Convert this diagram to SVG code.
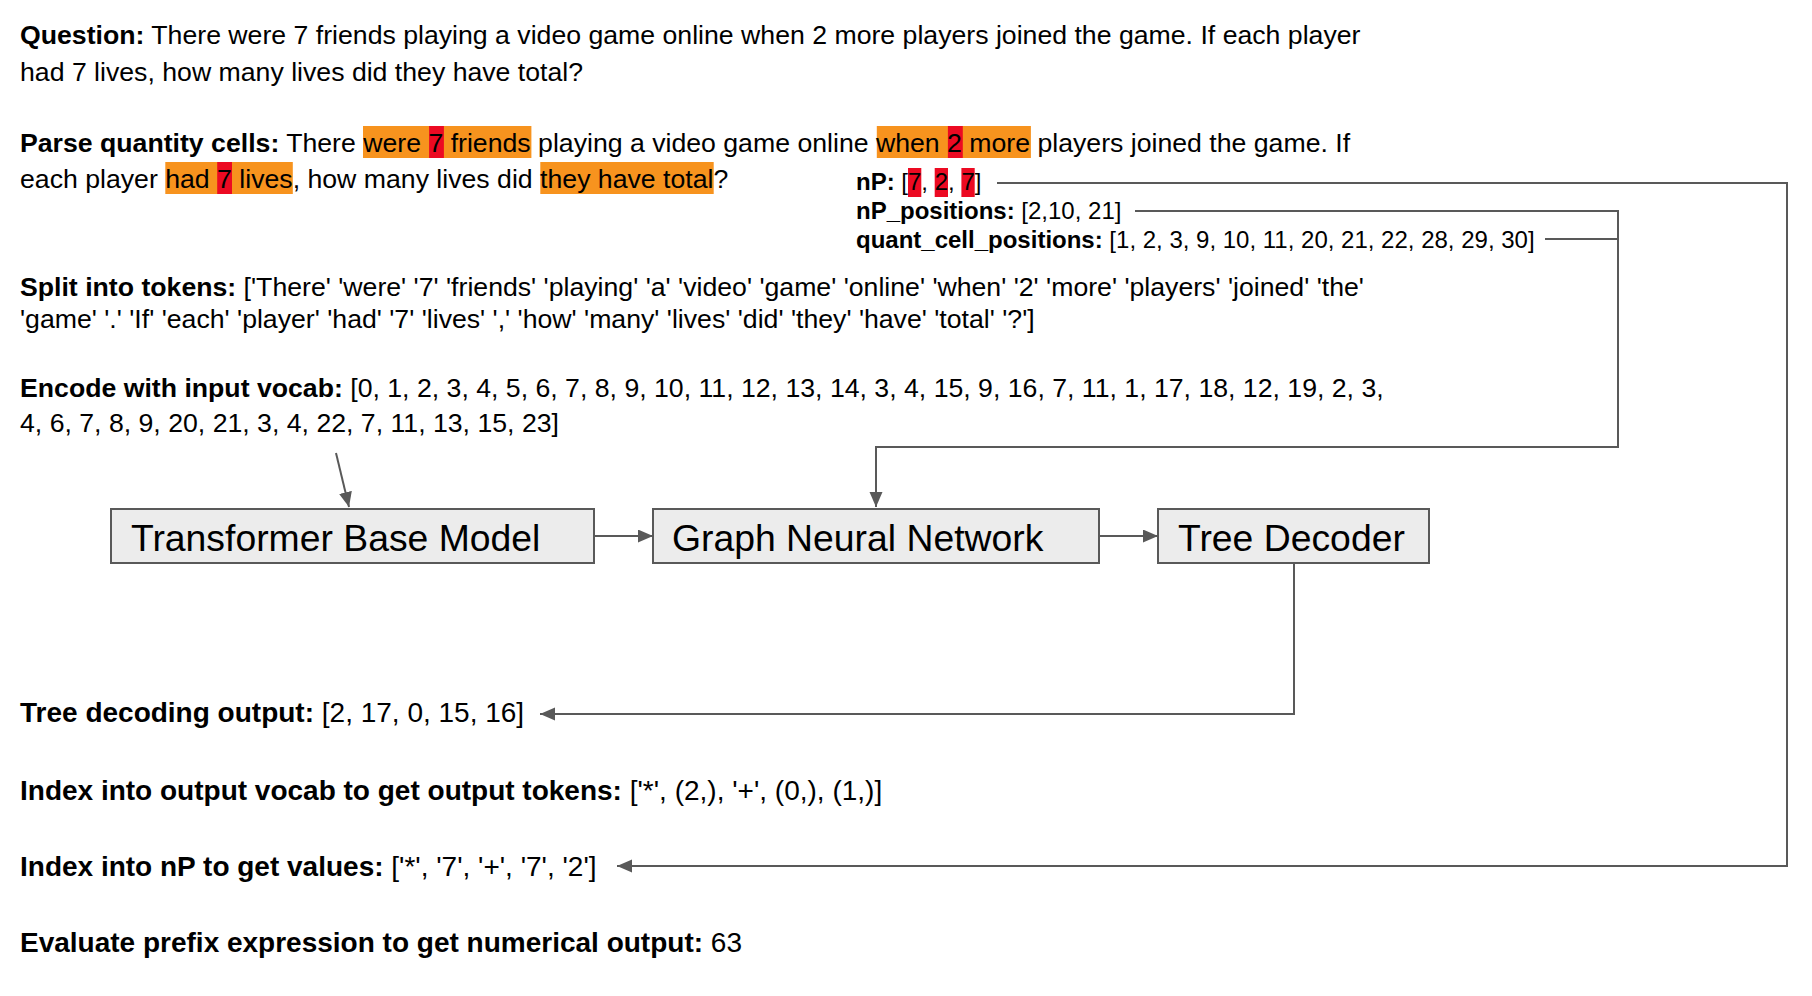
<svg xmlns="http://www.w3.org/2000/svg" width="1812" height="996" viewBox="0 0 1812 996">
<defs>
<style>
text{font-family:"Liberation Sans",Arial,sans-serif;fill:#000}
.t{font-size:26.67px}
.o{font-size:28px}
.s{font-size:24px}
.bx{font-size:37.33px}
.b{font-weight:bold}
.hl{fill:#f7931e}
.rd{fill:#ec0a22}
.node rect{fill:#ececec;stroke:#595959;stroke-width:2}
.con path{fill:none;stroke:#595959;stroke-width:2}
</style>
<marker id="ah" markerUnits="userSpaceOnUse" markerWidth="16" markerHeight="14" refX="15" refY="6.5" orient="auto">
<path d="M0,0 L15,6.5 L0,13 z" fill="#595959"/>
</marker>
</defs>
<rect width="1812" height="996" fill="#fff"/>

<g id="question">
<text class="t" x="20" y="44"><tspan class="b">Question:</tspan> There were 7 friends playing a video game online when 2 more players joined the game. If each player</text>
<text class="t" x="20" y="81">had 7 lives, how many lives did they have total?</text>
</g>

<g id="parse">
<rect class="hl" x="363" y="126" width="168.4" height="32"/>
<rect class="rd" x="429.1" y="126" width="14.8" height="32"/>
<rect class="hl" x="876.8" y="126" width="154.1" height="32"/>
<rect class="rd" x="947.9" y="126" width="14.9" height="32"/>
<rect class="hl" x="165.3" y="162" width="127.5" height="32"/>
<rect class="rd" x="217.2" y="162" width="14.8" height="32"/>
<rect class="hl" x="540.3" y="162" width="173.4" height="32"/>
<text class="t" x="20" y="152"><tspan class="b">Parse quantity cells:</tspan> There were 7 friends playing a video game online when 2 more players joined the game. If</text>
<text class="t" x="20" y="188">each player had 7 lives, how many lives did they have total?</text>
</g>

<g id="np">
<rect class="rd" x="908" y="168" width="13.3" height="29"/>
<rect class="rd" x="934.7" y="168" width="13.3" height="29"/>
<rect class="rd" x="961.4" y="168" width="13.3" height="29"/>
<text class="s" x="856" y="190"><tspan class="b">nP:</tspan> [7, 2, 7]</text>
<text class="s" x="856" y="219"><tspan class="b">nP_positions:</tspan> [2,10, 21]</text>
<text class="s" x="856" y="248"><tspan class="b">quant_cell_positions:</tspan> [1, 2, 3, 9, 10, 11, 20, 21, 22, 28, 29, 30]</text>
</g>

<g id="split">
<text class="t" x="20" y="296"><tspan class="b">Split into tokens:</tspan> ['There' 'were' '7' 'friends' 'playing' 'a' 'video' 'game' 'online' 'when' '2' 'more' 'players' 'joined' 'the'</text>
<text class="t" x="20" y="328">'game' '.' 'If' 'each' 'player' 'had' '7' 'lives' ',' 'how' 'many' 'lives' 'did' 'they' 'have' 'total' '?']</text>
</g>

<g id="encode">
<text class="t" x="20" y="397"><tspan class="b">Encode with input vocab:</tspan> [0, 1, 2, 3, 4, 5, 6, 7, 8, 9, 10, 11, 12, 13, 14, 3, 4, 15, 9, 16, 7, 11, 1, 17, 18, 12, 19, 2, 3,</text>
<text class="t" x="20" y="432">4, 6, 7, 8, 9, 20, 21, 3, 4, 22, 7, 11, 13, 15, 23]</text>
</g>

<g id="transformer" class="node">
<rect x="111" y="509" width="483" height="54"/>
<text class="bx" x="131" y="551">Transformer Base Model</text>
</g>
<g id="gnn" class="node">
<rect x="653" y="509" width="446" height="54"/>
<text class="bx" x="672" y="551">Graph Neural Network</text>
</g>
<g id="treedecoder" class="node">
<rect x="1158" y="509" width="271" height="54"/>
<text class="bx" x="1178" y="551">Tree Decoder</text>
</g>

<g id="outputs">
<text class="o" x="20" y="722"><tspan class="b">Tree decoding output:</tspan> [2, 17, 0, 15, 16]</text>
<text class="o" x="20" y="800"><tspan class="b">Index into output vocab to get output tokens:</tspan> ['*', (2,), '+', (0,), (1,)]</text>
<text class="o" x="20" y="876"><tspan class="b">Index into nP to get values:</tspan> ['*', '7', '+', '7', '2']</text>
<text class="o" x="20" y="952"><tspan class="b">Evaluate prefix expression to get numerical output:</tspan> 63</text>
</g>

<g id="connectors" class="con">
<path d="M336,453 L349,507" marker-end="url(#ah)"/>
<path d="M594,536 L653,536" marker-end="url(#ah)"/>
<path d="M1099,536 L1158,536" marker-end="url(#ah)"/>
<path d="M1135,211 H1618 V447 H876 V507" marker-end="url(#ah)"/>
<path d="M1545,239 H1618"/>
<path d="M997,183 H1787 V866 H617" marker-end="url(#ah)"/>
<path d="M1294,563 V714 H540" marker-end="url(#ah)"/>
</g>
</svg>
